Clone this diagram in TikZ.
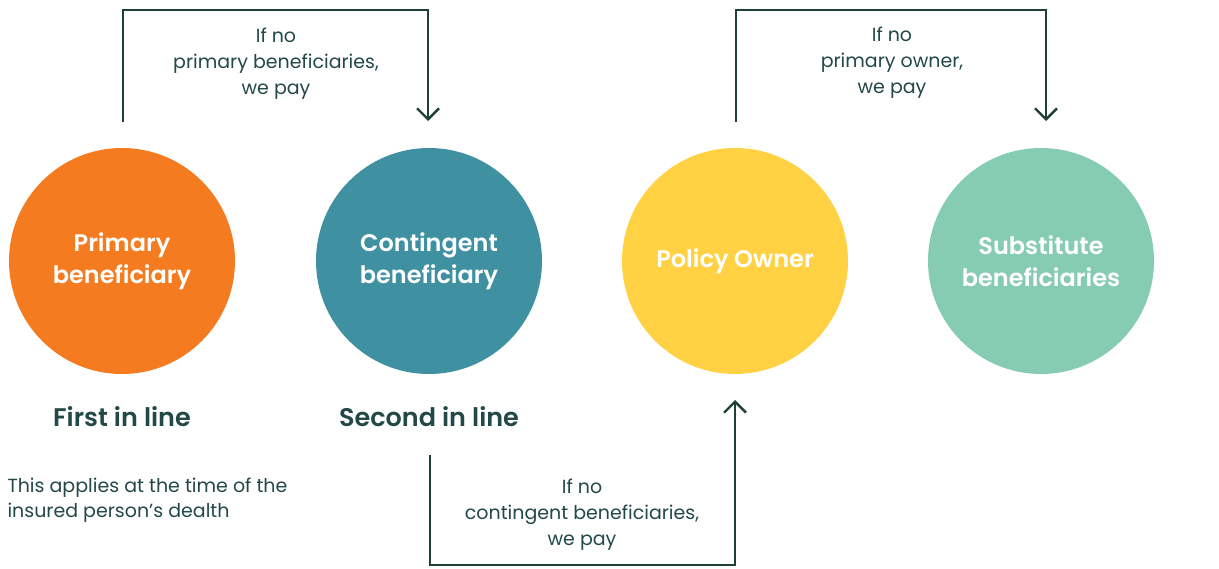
\documentclass[tikz,border=0pt]{standalone}
\usepackage{fontspec}
\setmainfont{Poppins}[Ligatures=NoCommon, BoldFont={Poppins SemiBold}]
\usetikzlibrary{arrows.meta}
\definecolor{cOrange}{HTML}{F47B20}
\definecolor{cTeal}{HTML}{3F91A1}
\definecolor{cYellow}{HTML}{FFD143}
\definecolor{cMint}{HTML}{86CCB3}
\definecolor{cLine}{HTML}{1E4036}
\definecolor{cText}{HTML}{234848}
\tikzset{
  circ/.style={circle, minimum size=226pt, inner sep=0pt, text=white, align=center,
    font=\fontsize{24}{32}\selectfont\bfseries},
  flow/.style={draw=cLine, line width=2.4pt, -{Straight Barb[length=11pt,width=22pt,line width=2.4pt]}},
  cond/.style={text=cText, align=center, font=\fontsize{19}{26}\selectfont},
  rank/.style={text=cText, font=\fontsize{25.5}{30}\selectfont\bfseries},
  note/.style={text=cText, align=left, font=\fontsize{19}{25}\selectfont, anchor=west},
}
\begin{document}
\begin{tikzpicture}[x=1pt,y=-1pt]
\useasboundingbox (0,0) rectangle (1219,568);
\node[circ, fill=cOrange] (p) at (122,261) {Primary\\beneficiary};
\node[circ, fill=cTeal] (c) at (429,261) {Contingent\\beneficiary};
\node[circ, fill=cYellow] (o) at (735,261) {Policy Owner};
\node[circ, fill=cMint] (s) at (1041,261) {Substitute\\beneficiaries};

\node[rank] (r1) at (122,417) {First in line};
\node[rank] (r2) at (429,417) {Second in line};
\node[note] (n) at (4,500) {This applies at the time of the\\insured person’s dealth};

\coordinate (a1s) at (123,122);
\coordinate (a1e) at (428,121);
\draw[flow] (a1s) -- (123,10) -| (a1e);
\node[cond] (t1) at (276,63.5) {If no\\primary beneficiaries,\\we pay};

\coordinate (a2s) at (736,122);
\coordinate (a2e) at (1046,121);
\draw[flow] (a2s) -- (736,10) -| (a2e);
\node[cond] (t2) at (892,62.5) {If no\\primary owner,\\we pay};

\coordinate (a3s) at (430,455);
\coordinate (a3e) at (735,400);
\draw[flow] (a3s) -- (430,565) -| (a3e);
\node[cond] (t3) at (582,514.5) {If no\\contingent beneficiaries,\\we pay};
\end{tikzpicture}
\end{document}
